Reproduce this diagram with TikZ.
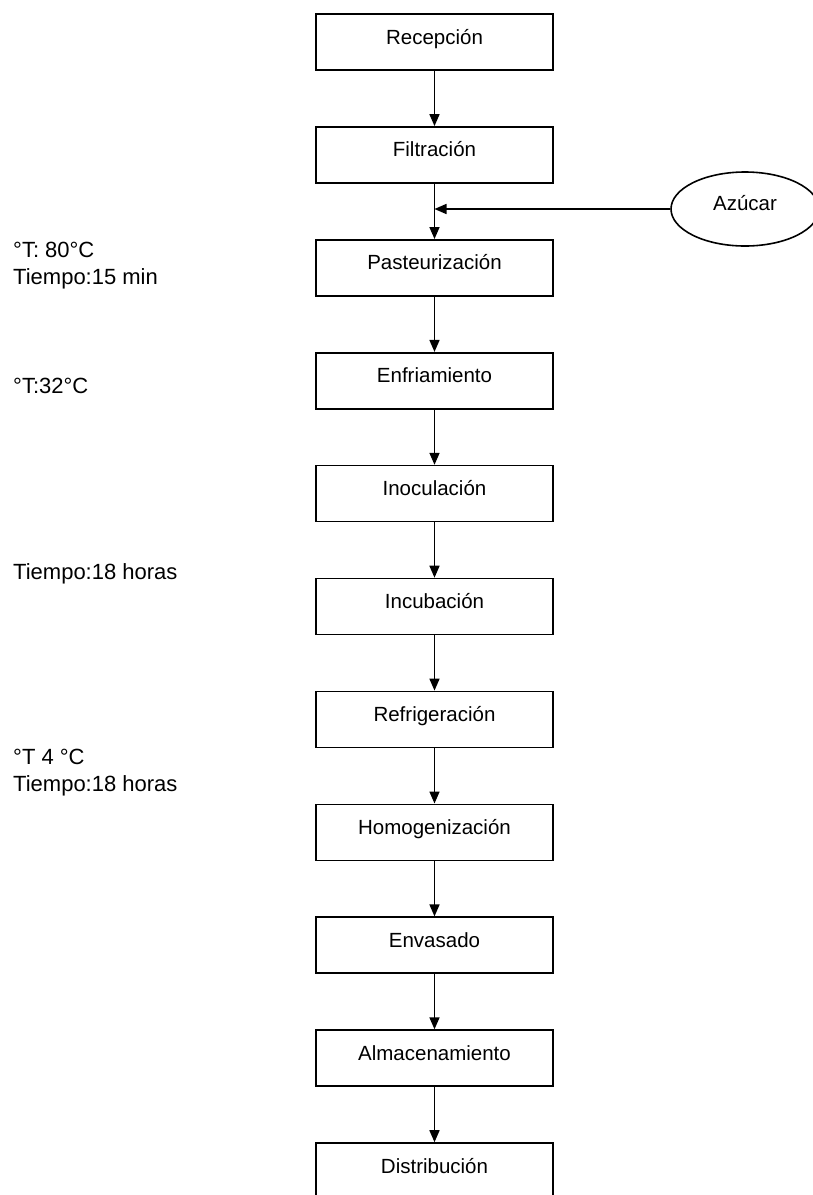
\documentclass[tikz,border=0pt]{standalone}
\usepackage{fontspec}
\setmainfont{Liberation Sans}
\usetikzlibrary{arrows.meta,shapes.geometric}

\tikzset{
  stepbox/.style={draw, line width=1.6pt, rectangle, minimum width=237pt,
    minimum height=56pt, inner sep=0pt, text height=14pt, text depth=10pt,
    font=\fontsize{20.5}{24}\selectfont},
  inputblob/.style={draw, line width=1.6pt, ellipse, minimum width=148pt,
    minimum height=74pt, inner sep=0pt, text height=14pt, text depth=12pt,
    font=\fontsize{20.5}{24}\selectfont},
  flow/.style={line width=1.6pt, -{Triangle[length=12pt,width=10pt]}},
  note/.style={anchor=base west, inner sep=0pt, font=\fontsize{22}{27}\selectfont}
}

\begin{document}
\begin{tikzpicture}[x=1pt,y=-1pt]
  \useasboundingbox (0,0) rectangle (812,1195);
  \fill[white] (0,0) rectangle (812,1195);

  % process steps, one every 112.9pt
  \foreach \name/\label [count=\i from 0] in {
      rec/Recepción, fil/Filtración, pas/Pasteurización, enf/Enfriamiento,
      ino/Inoculación, inc/Incubación, ref/Refrigeración, hom/Homogenización,
      env/Envasado, alm/Almacenamiento, dis/Distribución}
    \node[stepbox] (\name) at (434.5, 42+\i*112.9) {\label};

  % main flow
  \foreach \a/\b in {rec/fil, fil/pas, pas/enf, enf/ino, ino/inc,
                     inc/ref, ref/hom, hom/env, env/alm, alm/dis}
    \draw[flow] (\a.south) -- (\b.north);

  % sugar addition
  \node[inputblob] (az) at (745,209) {Azúcar};
  \coordinate (join) at (az.west -| fil.south);
  \draw[flow] (az.west) -- (join);

  % process conditions
  \node[note] (c1a) at (13,257) {°T: 80°C};
  \node[note] (c1b) at (13,284) {Tiempo:15 min};
  \node[note] (c2)  at (13,393) {°T:32°C};
  \node[note] (c3)  at (13,579) {Tiempo:18 horas};
  \node[note] (c4a) at (13,764) {°T 4 °C};
  \node[note] (c4b) at (13,791) {Tiempo:18 horas};
\end{tikzpicture}
\end{document}
